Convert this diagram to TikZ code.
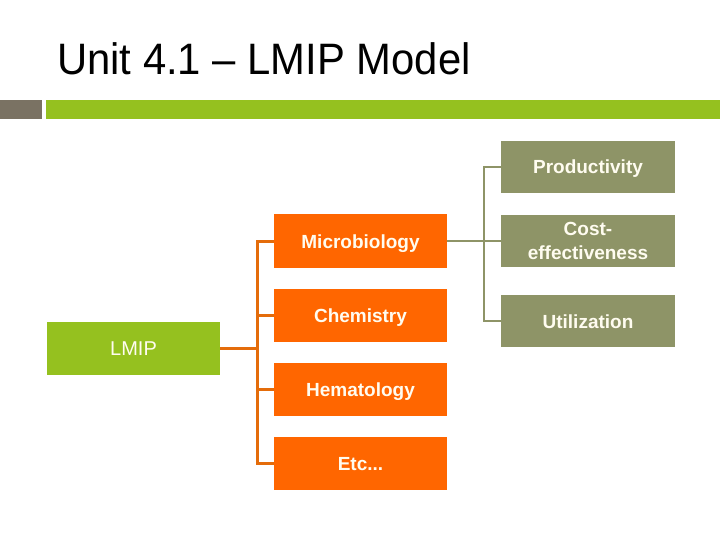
\documentclass[tikz,border=0pt]{standalone}
\usepackage{fontspec}
\setmainfont{Liberation Sans}
\definecolor{lime}{HTML}{95C11F}
\definecolor{orng}{HTML}{FF6600}
\definecolor{orngline}{HTML}{E46C0A}
\definecolor{olive}{HTML}{8E9467}
\definecolor{greysq}{HTML}{7A7263}
\definecolor{boxtext}{HTML}{FFFCF0}
\tikzset{
  box/.style={minimum width=173pt, minimum height=53pt, inner sep=0pt, text=boxtext, font=\fontsize{19}{24}\selectfont\bfseries, align=center},
  oneline/.style={text height=18pt, text depth=4pt},
  limebox/.style={box, oneline, fill=lime, font=\fontsize{20}{24}\selectfont},
  orangebox/.style={box, oneline, fill=orng},
  olivebox/.style={box, fill=olive, minimum width=174pt, minimum height=52pt},
  orangeconn/.style={draw=orngline, line width=3pt},
  oliveconn/.style={draw=olive, line width=2.6pt},
}
\begin{document}
\begin{tikzpicture}[x=1pt,y=-1pt]
\useasboundingbox (0,0) rectangle (720,540);
% title
\node[anchor=base west, inner sep=0pt, font=\fontsize{44}{48}\selectfont] (title) at (57,75) {\scalebox{0.95}[1]{Unit 4.1 – LMIP Model}};
% bars
\fill[greysq] (0,100) rectangle (42,119);
\fill[lime] (46,100) rectangle (720,119);
% nodes
\node[limebox] (lmip) at (133.5,348) {LMIP};
\node[orangebox] (micro) at (360.5,241) {Microbiology};
\node[orangebox] (chem) at (360.5,315.5) {Chemistry};
\node[orangebox] (hema) at (360.5,389.5) {Hematology};
\node[orangebox] (etc) at (360.5,463) {Etc...};
\node[olivebox, oneline] (prod) at (588,167) {Productivity};
\node[olivebox] (cost) at (588,241) {Cost-\\effectiveness};
\node[olivebox, oneline] (util) at (588,321) {Utilization};
% junctions
\coordinate (oj) at (257,348);
\coordinate (gj) at (484,241);
% orange connectors
\draw[orangeconn] (lmip.east) -- (oj);
\draw[orangeconn] (oj) |- (micro.west);
\draw[orangeconn] (oj) |- (chem.west);
\draw[orangeconn] (oj) |- (hema.west);
\draw[orangeconn] (oj) |- (etc.west);
% olive connectors
\draw[oliveconn] (micro.east) -- (gj);
\draw[oliveconn] (gj) |- (prod.west);
\draw[oliveconn] (gj) |- (cost.west);
\draw[oliveconn] (gj) |- (util.west);
\end{tikzpicture}
\end{document}
